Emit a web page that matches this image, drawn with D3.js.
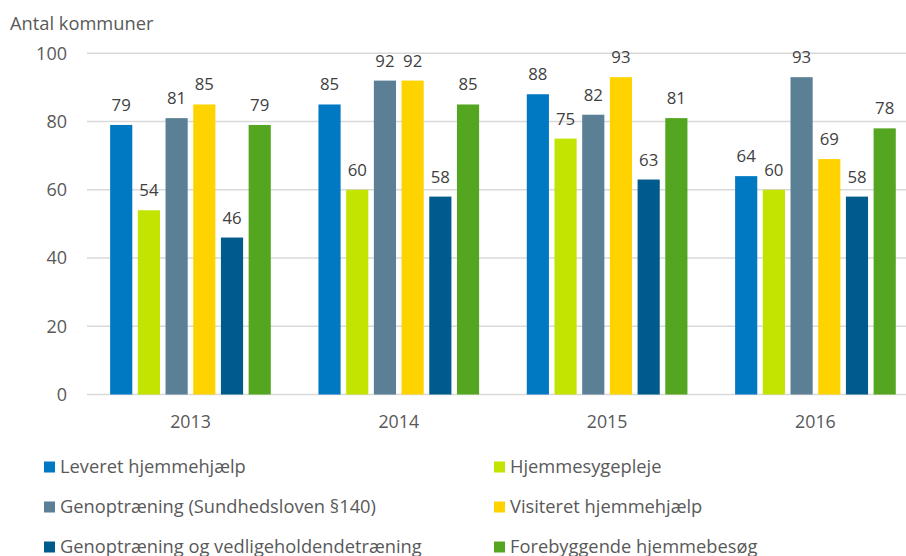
<!DOCTYPE html>
<html><head><meta charset="utf-8">
<script src="https://cdn.jsdelivr.net/npm/d3@7"></script>
<style>
body{margin:0;background:#fff;}
svg{display:block;font-family:"Open Sans",sans-serif;}
</style></head>
<body><svg id="chart" width="906" height="556"></svg>
<script>
const years = ["2013","2014","2015","2016"];
const seriesNames = ["Leveret hjemmehjælp","Hjemmesygepleje","Genoptræning (Sundhedsloven §140)","Visiteret hjemmehjælp","Genoptræning og vedligeholdendetræning","Forebyggende hjemmebesøg"];
const seriesColors = ["#0079C2","#C3E400","#5B7F95","#FFD300","#005B8D","#54A51F"];
const leveret = [79,85,88,64];
const hjemmesygepleje = [54,60,75,60];
const genoptraening140 = [81,92,82,93];
const visiteret = [85,92,93,69];
const vedligehold = [46,58,63,58];
const forebyggende = [79,85,81,78];
const yTicks = [0,20,40,60,80,100];
const values = [leveret,hjemmesygepleje,genoptraening140,visiteret,vedligehold,forebyggende];

const svg = d3.select("#chart");
const x0 = d3.scaleBand().domain(years).range([86.3,919.6]);
const x1 = d3.scaleBand().domain(d3.range(6)).range([0,166.2]).paddingInner(0.2).paddingOuter(0.1);
const y = d3.scaleLinear().domain([0,100]).range([394.5,53.3]);

// gridlines
svg.append("g").selectAll("line").data(yTicks.filter(d=>d>0)).join("line")
  .attr("x1",87).attr("x2",906).attr("y1",d=>y(d)).attr("y2",d=>y(d))
  .attr("stroke","#d9d9d9").attr("stroke-width",1.5);
svg.append("line").attr("x1",87).attr("x2",906).attr("y1",y(0)).attr("y2",y(0))
  .attr("stroke","#d9d9d9").attr("stroke-width",1.5);

// y labels
svg.append("g").selectAll("text").data(yTicks).join("text")
  .attr("x",67).attr("y",d=>y(d)).attr("dy","0.35em").attr("text-anchor","end")
  .attr("font-size",18).attr("fill","#595959").text(d=>d);

svg.append("text").attr("x",10).attr("y",30).attr("font-size",18.3).attr("fill","#595959").text("Antal kommuner");

// bars
const groups = svg.append("g").selectAll("g").data(years).join("g")
  .attr("transform",(d)=>`translate(${x0(d)+x0.bandwidth()/2-83.1},0)`);
groups.each(function(yr,yi){
  const g = d3.select(this);
  const data = values.map((s,si)=>({si,v:s[yi]}));
  g.selectAll("rect").data(data).join("rect")
    .attr("x",d=>x1(d.si)).attr("width",x1.bandwidth())
    .attr("y",d=>y(d.v)).attr("height",d=>y(0)-y(d.v))
    .attr("fill",d=>seriesColors[d.si]);
  g.selectAll("text").data(data).join("text")
    .attr("x",d=>x1(d.si)+x1.bandwidth()/2).attr("y",d=>y(d.v)-14)
    .attr("text-anchor","middle").attr("font-size",16.8).attr("fill","#404040").text(d=>d.v);
});

// x labels
svg.append("g").selectAll("text").data(years).join("text")
  .attr("x",d=>x0(d)+x0.bandwidth()/2).attr("y",422).attr("dy","0.35em")
  .attr("text-anchor","middle").attr("font-size",17.8).attr("fill","#595959").text(d=>d);

// legend
const legX = [44,494], legY = [467,507,547];
const leg = svg.append("g").selectAll("g").data(seriesNames).join("g")
  .attr("transform",(d,i)=>`translate(${legX[i%2]},${legY[Math.floor(i/2)]})`);
leg.append("rect").attr("x",0).attr("y",-5.5).attr("width",11).attr("height",11).attr("fill",(d,i)=>seriesColors[i]);
leg.append("text").attr("x",16).attr("y",0).attr("dy","0.35em").attr("font-size",18.3).attr("fill","#595959").text(d=>d);
</script></body></html>
